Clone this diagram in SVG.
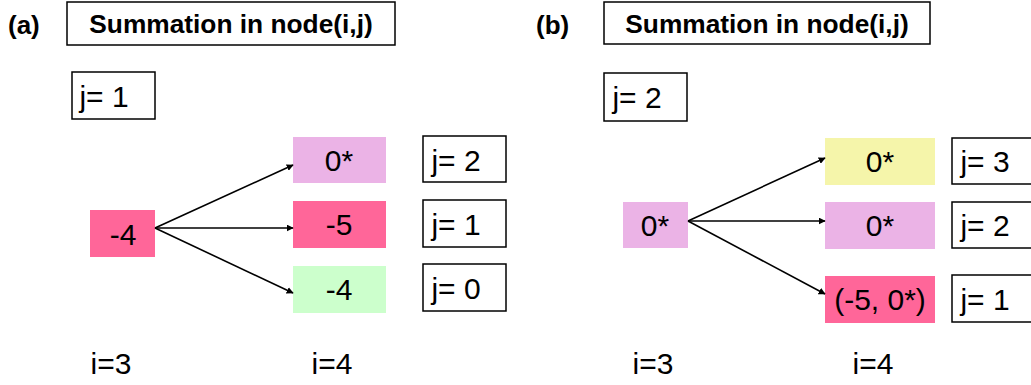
<svg xmlns="http://www.w3.org/2000/svg" width="1031" height="385" viewBox="0 0 1031 385">
<defs>
<style>
.lbl{font-family:"Liberation Sans",Arial,sans-serif;font-size:30px;fill:#000;text-anchor:middle}
.ttl{font-family:"Liberation Sans",Arial,sans-serif;font-size:26.3px;font-weight:bold;fill:#000;text-anchor:middle}
.pl{font-family:"Liberation Sans",Arial,sans-serif;font-size:26px;font-weight:bold;fill:#000}
.box{fill:#fff;stroke:#000;stroke-width:1.5}
.pink{fill:#FF6699}
.lav{fill:#EBB3E6}
.grn{fill:#CCFFCC}
.yel{fill:#F5F5AA}
.conn path{fill:none;stroke:#000;stroke-width:1.6;marker-end:url(#ah)}
</style>
<marker id="ah" viewBox="0 0 10 10" refX="9" refY="5" markerWidth="7" markerHeight="7" markerUnits="userSpaceOnUse" orient="auto">
<path d="M0,0 L10,5 L0,10 z" fill="#000"/>
</marker>
</defs>
<rect width="1031" height="385" fill="#fff"/>

<text class="pl" x="8" y="34">(a)</text>
<g id="a-title"><rect class="box" x="67" y="2" width="328" height="43"/><text class="ttl" x="231" y="33">Summation in node(i,j)</text></g>
<g id="a-j1top"><rect class="box" x="72" y="72" width="83" height="47"/><text class="lbl" x="104" y="107">j= 1</text></g>
<g id="a-n3"><rect class="pink" x="90" y="210" width="65" height="47"/><text class="lbl" x="123" y="245">-4</text></g>
<g id="a-n4-2"><rect class="lav" x="293" y="137" width="93" height="46"/><text class="lbl" x="339" y="171">0*</text></g>
<g id="a-n4-1"><rect class="pink" x="293" y="201" width="93" height="47"/><text class="lbl" x="339" y="235">-5</text></g>
<g id="a-n4-0"><rect class="grn" x="293" y="266" width="93" height="47"/><text class="lbl" x="339" y="300">-4</text></g>
<g id="a-j2"><rect class="box" x="423" y="136" width="83" height="46"/><text class="lbl" x="456" y="171">j= 2</text></g>
<g id="a-j1"><rect class="box" x="423" y="200" width="83" height="47"/><text class="lbl" x="456" y="235">j= 1</text></g>
<g id="a-j0"><rect class="box" x="423" y="264" width="83" height="47"/><text class="lbl" x="456" y="299">j= 0</text></g>
<text class="lbl" x="111" y="374">i=3</text>
<text class="lbl" x="332" y="374">i=4</text>

<text class="pl" x="536" y="34">(b)</text>
<g id="b-title"><rect class="box" x="604" y="2" width="326" height="42"/><text class="ttl" x="767" y="33">Summation in node(i,j)</text></g>
<g id="b-j2top"><rect class="box" x="604" y="73" width="83" height="48"/><text class="lbl" x="637" y="108">j= 2</text></g>
<g id="b-n3"><rect class="lav" x="623" y="202" width="65" height="46"/><text class="lbl" x="655" y="236">0*</text></g>
<g id="b-n4-3"><rect class="yel" x="825" y="138" width="110" height="47"/><text class="lbl" x="880" y="172">0*</text></g>
<g id="b-n4-2"><rect class="lav" x="825" y="202" width="110" height="47"/><text class="lbl" x="880" y="236">0*</text></g>
<g id="b-n4-1"><rect class="pink" x="825" y="276" width="110" height="47"/><text class="lbl" x="880" y="310">(-5, 0*)</text></g>
<g id="b-j3"><rect class="box" x="952" y="138" width="90" height="46"/><text class="lbl" x="985" y="172">j= 3</text></g>
<g id="b-j2"><rect class="box" x="952" y="202" width="90" height="46"/><text class="lbl" x="985" y="236">j= 2</text></g>
<g id="b-j1"><rect class="box" x="952" y="275" width="90" height="47"/><text class="lbl" x="985" y="310">j= 1</text></g>
<text class="lbl" x="653" y="374">i=3</text>
<text class="lbl" x="873" y="374">i=4</text>

<g id="connectors" class="conn">
<path d="M155,228 L293,165"/>
<path d="M155,228 L293,228"/>
<path d="M155,228 L293,293"/>
<path d="M688,221 L825,158"/>
<path d="M688,221 L825,221"/>
<path d="M688,221 L825,294"/>
</g>
</svg>
